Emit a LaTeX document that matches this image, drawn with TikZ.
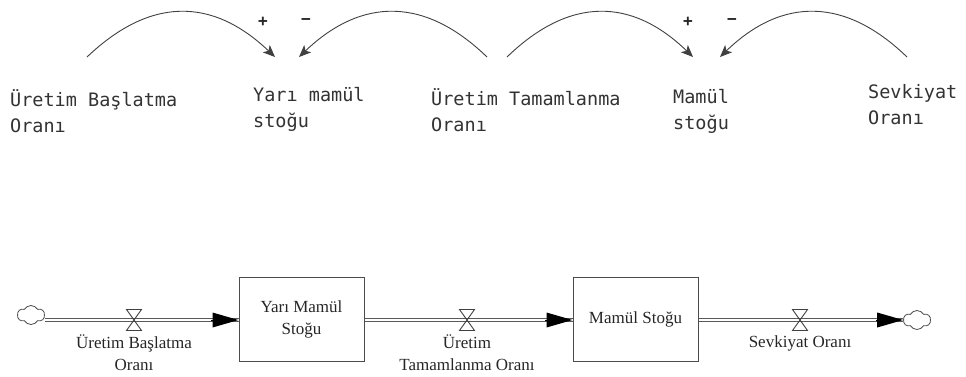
\documentclass[tikz,border=0pt]{standalone}
\usepackage{fontspec}
\setmainfont{Liberation Serif}
\newfontfamily\loopfont{DejaVu Sans Mono}
\usetikzlibrary{arrows.meta,shapes.symbols,calc}

\tikzset{
  looplabel/.style={font=\loopfont\fontsize{18.5}{26}\selectfont, text=black!80,
    align=left, inner sep=0pt, anchor=base west},
  sign/.style={font=\loopfont\bfseries\fontsize{16}{16}\selectfont, text=black!85, inner sep=0pt},
  link/.style={draw=black!75, line width=0.9pt,
    -{Stealth[length=12pt,width=10pt,inset=3pt]}},
  stock/.style={draw=black!70, line width=1pt, minimum width=125pt,
    minimum height=84pt, inner sep=0pt, align=center,
    font=\fontsize{17}{22}\selectfont, text=black!85},
  sink/.style={cloud, cloud puffs=6, cloud puff arc=120, draw=black!70,
    line width=0.8pt, minimum width=27pt, minimum height=19pt, inner sep=0pt},
  pipe/.style={draw=black!65, line width=1.1pt, double=white, double distance=2.2pt},
  pipetip/.style={line width=0pt, -{Triangle[length=26pt,width=15pt]}},
  valvepoint/.style={inner sep=0pt, minimum size=0pt},
  valveline/.style={draw=black!75, line width=0.9pt},
  ratelabel/.style={font=\fontsize{17}{22}\selectfont, text=black!85,
    align=center, inner sep=0pt, anchor=base}
}

\begin{document}
\begin{tikzpicture}[x=1pt,y=-1pt]
\useasboundingbox (0,0) rectangle (966,376);

% ---------- causal loop part (node base = last line's baseline) ----------
\node[looplabel] (ub) at (10,132) {Üretim Başlatma\\Oranı};
\node[looplabel] (ym) at (253,127) {Yarı mamül\\stoğu};
\node[looplabel] (ut) at (431,131) {Üretim Tamamlanma\\Oranı};
\node[looplabel] (ms) at (673,129) {Mamül\\stoğu};
\node[looplabel] (so) at (868,124) {Sevkiyat\\Oranı};

\coordinate (a1s) at (87,57);  \coordinate (a1e) at (275,57);
\coordinate (a2s) at (487,57); \coordinate (a2e) at (299,57);
\coordinate (a3s) at (507,57); \coordinate (a3e) at (693,57);
\coordinate (a4s) at (907,57); \coordinate (a4e) at (720,57);

\draw[link] (a1s) .. controls (150,-3) and (212,-3) .. (a1e);
\draw[link] (a2s) .. controls (425,-3) and (362,-3) .. (a2e);
\draw[link] (a3s) .. controls (569,-3) and (631,-3) .. (a3e);
\draw[link] (a4s) .. controls (845,-3) and (782,-3) .. (a4e);

\node[sign] (p1) at (263,22) {+};
\node[sign] (m1) at (306,22) {−};
\node[sign] (p2) at (688,22) {+};
\node[sign] (m2) at (732,22) {−};

% ---------- stock and flow part ----------
\node[stock] (yms) at (301.5,319) {Yarı Mamül\\Stoğu};
\node[stock] (mst) at (635.5,319) {Mamül Stoğu};

\node[sink] (src) at (31,315) {};
\node[sink] (dst) at (917,320) {};

\coordinate (pin) at (src.east |- 0,320);
\coordinate (pout) at (dst.west |- 0,320);
\coordinate (y1) at (yms.west |- 0,320);
\coordinate (y2) at (yms.east |- 0,320);
\coordinate (m1in) at (mst.west |- 0,320);
\coordinate (m2out) at (mst.east |- 0,320);

\node[valvepoint] (v1) at (134,320) {};
\node[valvepoint] (v2) at (467,320) {};
\node[valvepoint] (v3) at (800,320) {};

\draw[pipe] (pin) -- (y1);
\draw[pipe] (y2) -- (m1in);
\draw[pipe] (m2out) -- (pout);

\draw[pipetip] ($(y1)+(-27,0)$) -- (y1);
\draw[pipetip] ($(m1in)+(-27,0)$) -- (m1in);
\draw[pipetip] ($(pout)+(-27,0)$) -- (pout);

\foreach \v in {v1,v2,v3}
  \draw[valveline] ([shift={(-7.5,-10.5)}]\v.center) -- ([shift={(7.5,-10.5)}]\v.center)
    -- ([shift={(-7.5,10.5)}]\v.center) -- ([shift={(7.5,10.5)}]\v.center) -- cycle;

\node[ratelabel] (l1) at (134,370) {Üretim Başlatma\\Oranı};
\node[ratelabel] (l2) at (467,370) {Üretim\\Tamamlanma Oranı};
\node[ratelabel] (l3) at (800,347) {Sevkiyat Oranı};
\end{tikzpicture}
\end{document}
